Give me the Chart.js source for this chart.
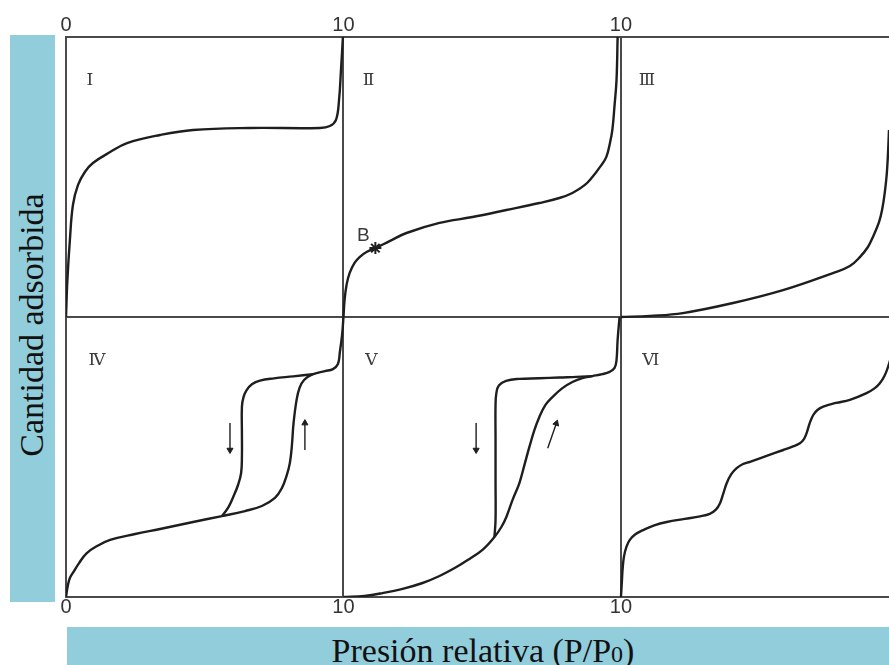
<!DOCTYPE html>
<html lang="es">
<head>
<meta charset="UTF-8">
<title>Isotermas de adsorción</title>
<script src="https://cdn.jsdelivr.net/npm/chart.js@4.4.1/dist/chart.umd.min.js"></script>
<style>
    body { margin: 0; background: #fff; }
    .wrap { position: relative; width: 889px; height: 665px; overflow: hidden; }
    canvas { position: absolute; left: 0; top: 0; }
    .ybar { position: absolute; left: 10px; top: 35px; width: 45px; height: 567px; background: #92cddc; }
    .ylabel {
        position: absolute; left: 31.5px; top: 324.5px;
        transform: translate(-50%, -50%) rotate(-90deg);
        font: 34px/1 "Liberation Serif", serif; color: #111; white-space: nowrap;
    }
    .xbar { position: absolute; left: 67px; top: 627px; width: 822px; height: 38px; background: #92cddc; overflow: hidden; }
    .xlabel {
        position: absolute; left: calc(50% + 5px); top: 6.5px; transform: translateX(-50%);
        font: 34px/1 "Liberation Serif", serif; color: #111; white-space: nowrap;
    }
    .xlabel small { font-size: 24px; }
</style>
</head>
<body>
<div class="wrap">
    <canvas id="isotermas" width="889" height="665"></canvas>
    <div class="ybar"></div>
    <div class="ylabel">Cantidad adsorbida</div>
    <div class="xbar"><div class="xlabel">Presión relativa (P/P<small>0</small>)</div></div>
</div>
<script>
    // ---- isotherm curves, panel-local coords (0..10 across, 0..10 up) ----
    const typeI = [[0,0],[0.05,1.32],[0.14,2.75],[0.25,4.0],[0.43,4.71],[0.68,5.18],[0.97,5.5],[1.59,5.89],[2.2,6.21],[3.39,6.5],[4.58,6.68],[6.63,6.75],[9.15,6.75],[9.51,6.82],[9.73,7.04],[9.84,7.75],[9.91,8.82],[9.98,10]];
    const typeII = [[0,0],[0.04,0.61],[0.11,1.14],[0.22,1.57],[0.4,1.93],[0.58,2.14],[0.83,2.32],[1.15,2.46],[1.66,2.71],[2.27,3.0],[3.46,3.36],[4.65,3.57],[5.87,3.82],[7.06,4.07],[7.78,4.25],[8.25,4.43],[8.69,4.71],[8.97,5.0],[9.26,5.38],[9.47,5.71],[9.6,6.2],[9.69,6.68],[9.77,7.57],[9.84,8.46],[9.88,10]];
    const typeIII = [[0,0],[1.05,0.04],[2.23,0.14],[4.04,0.5],[5.84,0.96],[7.64,1.57],[8.25,1.82],[8.61,2.14],[8.9,2.5],[9.08,2.86],[9.3,3.39],[9.41,3.82],[9.51,4.46],[9.59,5.25],[9.66,6.68],[9.73,8.6]];
    const typeIVads = [[0,0],[0.07,0.43],[0.14,0.68],[0.26,0.88],[0.47,1.21],[0.74,1.56],[1.12,1.82],[1.59,2.04],[2.49,2.25],[3.39,2.43],[4.58,2.68],[5.62,2.89],[6.45,3.07],[7.06,3.25],[7.53,3.54],[7.78,3.89],[7.96,4.36],[8.07,4.8],[8.14,5.4],[8.2,6.2],[8.31,7.04],[8.42,7.48],[8.58,7.75],[8.86,7.94],[9.33,8.07],[9.62,8.14],[9.8,8.32],[9.87,8.75],[9.95,9.36],[10,10]];
    const typeIVdes = [[5.62,2.89],[5.85,3.2],[6.03,3.58],[6.2,4.0],[6.31,4.42],[6.34,5.0],[6.34,5.85],[6.34,6.8],[6.4,7.15],[6.51,7.39],[6.7,7.6],[6.99,7.73],[7.5,7.81],[8.19,7.88],[8.9,7.96]];
    const typeVads = [[0,0],[0.76,0.04],[1.41,0.14],[2.13,0.29],[2.85,0.5],[3.46,0.75],[4.07,1.07],[4.54,1.36],[5.01,1.68],[5.44,2.14],[5.69,2.5],[5.87,2.86],[6.09,3.46],[6.34,4.07],[6.52,4.71],[6.7,5.36],[6.88,5.96],[7.06,6.43],[7.28,6.86],[7.53,7.14],[7.89,7.46],[8.25,7.68],[8.61,7.82],[8.97,7.89],[9.33,7.96],[9.59,8.04],[9.77,8.18],[9.84,8.46],[9.88,9.18],[9.95,10]];
    const typeVdes = [[5.44,2.14],[5.48,2.75],[5.48,4.18],[5.48,5.61],[5.48,6.86],[5.51,7.28],[5.6,7.55],[5.86,7.72],[6.34,7.79],[7.06,7.81],[7.78,7.84],[8.4,7.86],[8.97,7.89]];
    const typeVI = [[0,0],[0.03,0.5],[0.06,1.0],[0.11,1.45],[0.2,1.8],[0.32,2.04],[0.52,2.24],[0.8,2.39],[1.2,2.56],[1.65,2.68],[2.3,2.79],[2.85,2.88],[3.2,2.97],[3.42,3.12],[3.57,3.35],[3.69,3.7],[3.81,4.06],[3.97,4.38],[4.17,4.6],[4.4,4.75],[4.65,4.83],[5.25,5.04],[5.85,5.25],[6.2,5.38],[6.45,5.49],[6.6,5.65],[6.69,5.85],[6.8,6.2],[6.93,6.5],[7.08,6.68],[7.29,6.8],[7.75,6.93],[8.25,7.04],[8.85,7.28],[9.15,7.46],[9.33,7.63],[9.5,7.9],[9.63,8.23],[9.8,8.8]];

    // hysteresis direction arrows [start, head]
    const arrowIVdown = [[5.91,6.21],[5.91,5.25]];
    const arrowIVup = [[8.61,5.25],[8.61,6.21]];
    const arrowVdown = [[4.78,6.21],[4.78,5.25]];
    const arrowVup = [[7.36,5.31],[7.67,6.2]];

    // point B on the type II curve
    const pointB = [1.15, 2.46];

    // axis ticks
    const tickValues = [0, 10, 20];
    const tickLabels = ['0', '10', '10'];
    const X_MAX = 29.66;

    // panel titles: [text, col, row, x, y]
    const panelLabels = [
        ['Ⅰ', 0, 1, 0.86, 8.43], ['Ⅱ', 1, 1, 0.9, 8.43], ['Ⅲ', 2, 1, 0.94, 8.43],
        ['Ⅳ', 0, 0, 1.12, 8.46], ['Ⅴ', 1, 0, 1.01, 8.46], ['Ⅵ', 2, 0, 1.08, 8.46]
    ];
    const labelB = ['B', 1, 1, 0.72, 2.91];

    // move panel-local points into the 3x2 grid
    const place = (pts, col, row) => pts.map(([x, y]) => ({ x: x + 10 * col, y: y + 10 * row }));

    const INK = '#1e1e1e';
    const GRID = '#4a4a4a';

    const curve = (pts, col, row) => ({
        data: place(pts, col, row),
        showLine: true,
        borderColor: INK,
        borderWidth: 2.4,
        pointRadius: 0,
        tension: 0.4,
        fill: false
    });

    const arrow = (pts, col, row, rot) => ({
        data: place(pts, col, row),
        showLine: true,
        borderColor: INK,
        backgroundColor: INK,
        borderWidth: 1.4,
        pointStyle: 'triangle',
        pointRadius: [0, 3.5],
        pointRotation: [0, rot],
        pointBorderWidth: 1
    });

    const datasets = [
        curve(typeI, 0, 1),
        curve(typeII, 1, 1),
        curve(typeIII, 2, 1),
        curve(typeIVads, 0, 0),
        curve(typeIVdes, 0, 0),
        curve(typeVads, 1, 0),
        curve(typeVdes, 1, 0),
        curve(typeVI, 2, 0),
        arrow(arrowIVdown, 0, 0, 180),
        arrow(arrowIVup, 0, 0, 0),
        arrow(arrowVdown, 1, 0, 180),
        arrow(arrowVup, 1, 0, 19),
        {
            data: place([pointB], 1, 1),
            pointStyle: 'star',
            pointRadius: 6,
            borderColor: INK,
            pointBorderWidth: 2
        }
    ];

    // roman numerals and the "B" mark
    const textMarks = {
        id: 'textMarks',
        afterDatasetsDraw(chart) {
            const { ctx, scales: { x, y } } = chart;
            const put = ([t, col, row, px, py], font) => {
                ctx.font = font;
                ctx.fillText(t, x.getPixelForValue(px + 10 * col), y.getPixelForValue(py + 10 * row));
            };
            ctx.save();
            ctx.fillStyle = '#3a3a3a';
            ctx.textAlign = 'center';
            ctx.textBaseline = 'middle';
            panelLabels.forEach(l => put(l, '17px "DejaVu Serif", serif'));
            put(labelB, '19px "Liberation Sans", Arial, sans-serif');
            ctx.restore();
        }
    };

    const setTicks = s => { s.ticks = tickValues.map(v => ({ value: v })); };
    // fixed frame: no side padding from tick labels
    const fitX = h => s => { s.height = h; s.paddingLeft = 0; s.paddingRight = 0; };
    const tickFont = { family: 'Liberation Sans', size: 20 };

    new Chart(document.getElementById('isotermas'), {
        type: 'scatter',
        data: { datasets },
        options: {
            responsive: false,
            animation: false,
            layout: { padding: 0, autoPadding: false },
            plugins: { legend: { display: false }, tooltip: { enabled: false } },
            scales: {
                x: {
                    type: 'linear', position: 'bottom', min: 0, max: X_MAX,
                    afterBuildTicks: setTicks,
                    afterFit: fitX(68),
                    ticks: { autoSkip: false, maxRotation: 0, padding: -2, color: '#333', font: tickFont, callback: (v, i) => tickLabels[i] },
                    grid: { color: GRID, lineWidth: 2, drawTicks: false },
                    border: { color: GRID, width: 2 }
                },
                xTop: {
                    type: 'linear', position: 'top', min: 0, max: X_MAX,
                    afterBuildTicks: setTicks,
                    afterFit: fitX(37),
                    ticks: { autoSkip: false, maxRotation: 0, padding: 0, color: '#333', font: tickFont, callback: (v, i) => tickLabels[i] },
                    grid: { display: false, drawTicks: false },
                    border: { display: false }
                },
                y: {
                    type: 'linear', min: 0, max: 20,
                    afterBuildTicks: setTicks,
                    afterFit: s => { s.width = 66; s.paddingTop = 0; s.paddingBottom = 0; },
                    ticks: { display: false },
                    grid: { color: GRID, lineWidth: 2, drawTicks: false },
                    border: { color: GRID, width: 2 }
                }
            }
        },
        plugins: [textMarks]
    });
</script>
</body>
</html>
